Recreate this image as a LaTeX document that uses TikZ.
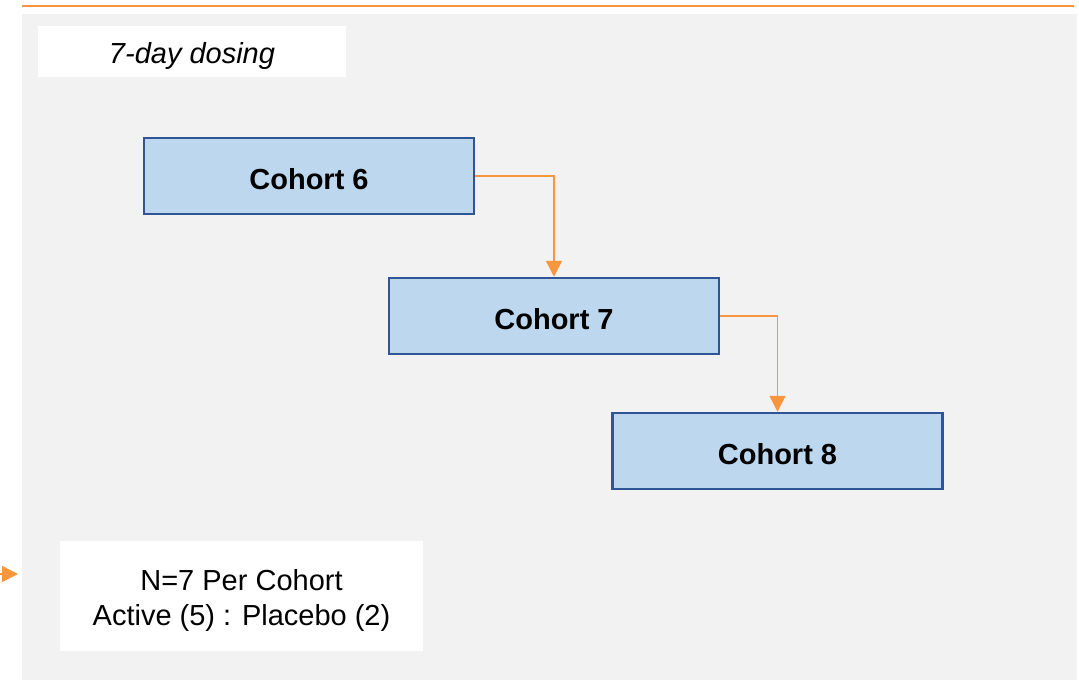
\documentclass[tikz,border=0pt]{standalone}
\usepackage{fontspec}
\setmainfont{Liberation Sans}
\usetikzlibrary{arrows.meta}
\definecolor{panelgray}{RGB}{242,242,242}
\definecolor{cohortfill}{RGB}{189,215,238}
\definecolor{cohortedge}{RGB}{47,85,151}
\definecolor{flow}{RGB}{247,150,62}
\tikzset{
  cohort/.style={draw=cohortedge, line width=2.5pt, fill=cohortfill,
    minimum width=330pt, minimum height=76pt, inner sep=0pt,
    text height=27pt, text depth=0pt,
    font=\fontsize{29}{34}\selectfont\bfseries},
  label box/.style={fill=white, inner sep=0pt, align=center,
    font=\fontsize{29}{35}\selectfont},
  flowarrow/.style={draw=flow, line width=1.4pt,
    -{Triangle[length=16pt,width=16pt]}},
}
\begin{document}
\begin{tikzpicture}[x=1pt, y=-1pt]
  \useasboundingbox (0,0) rectangle (1079,680);
  % background panel and top rule
  \fill[panelgray] (22,14) rectangle (1077,680);
  \draw[flow, line width=2pt] (22,5.5) -- (1074,5.5);

  % heading
  \node[label box, minimum width=308pt, minimum height=51pt,
        text height=29pt, text depth=6pt,
        font=\fontsize{29}{34}\selectfont\itshape] (head) at (192,51.5) {7-day dosing};

  % cohorts
  \node[cohort] (c6) at (309,176) {Cohort 6};
  \node[cohort] (c7) at (554,316) {Cohort 7};
  \node[cohort] (c8) at (777.5,451) {Cohort 8};

  \draw[flowarrow] (c6.east) -| (c7.north);
  \draw[flowarrow] (c7.east) -| (c8.north);

  % legend
  \node[label box, minimum width=363pt, minimum height=110pt, text height=64pt]
    (legend) at (241.5,596)
    {N=7 Per Cohort\\Active (5) : Placebo (2)};
  \coordinate (lin) at (0,574);
  \coordinate (lout) at (18,574);
  \draw[flowarrow] (lin) -- (lout);
\end{tikzpicture}
\end{document}
